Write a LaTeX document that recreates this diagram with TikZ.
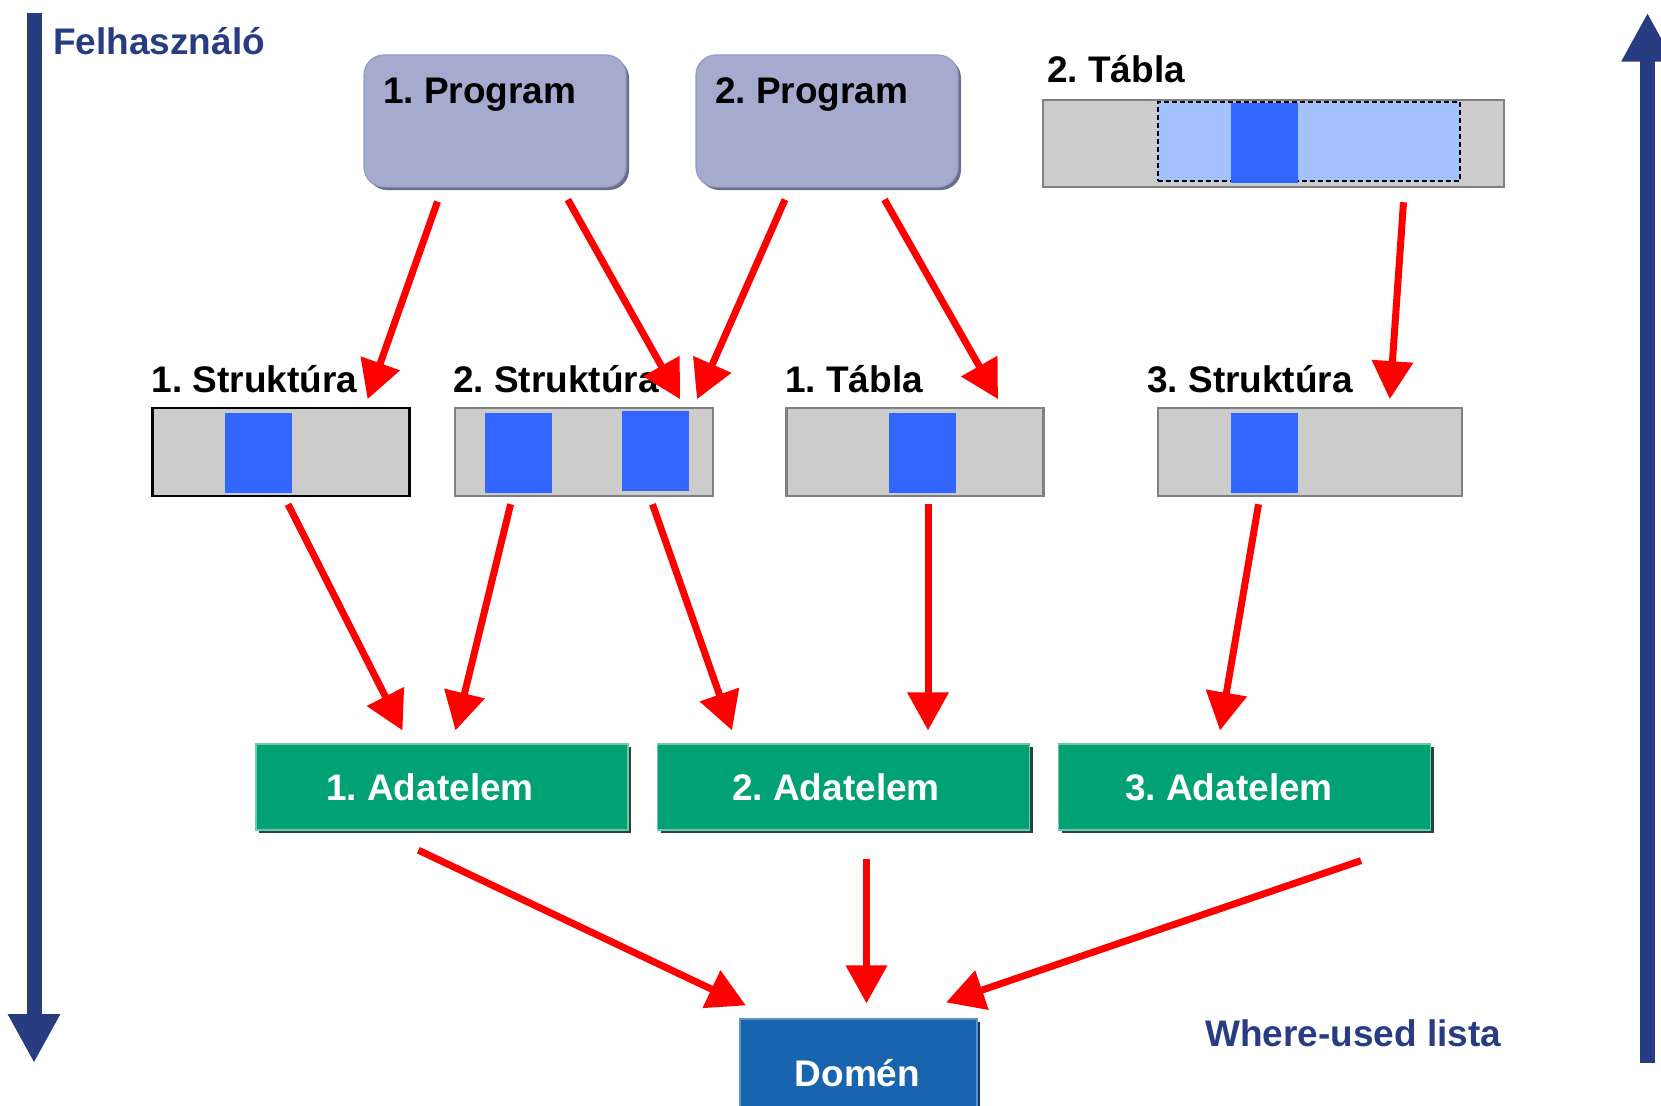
\documentclass[tikz,border=0pt]{standalone}
\usepackage{fontspec}
\setmainfont{Liberation Sans}
\usetikzlibrary{arrows.meta,shadows}
\definecolor{navy}{RGB}{40,60,130}
\definecolor{progfill}{RGB}{165,170,207}
\definecolor{progline}{RGB}{150,155,195}
\definecolor{progshade}{RGB}{105,110,140}
\definecolor{boxgray}{RGB}{204,204,204}
\definecolor{boxline}{RGB}{128,128,128}
\definecolor{fieldblue}{RGB}{51,102,255}
\definecolor{lightblue}{RGB}{164,194,255}
\definecolor{adgreen}{RGB}{0,161,115}
\definecolor{adlight}{RGB}{110,200,170}
\definecolor{adshade}{RGB}{40,70,60}
\definecolor{domblue}{RGB}{24,100,174}
\definecolor{domshade}{RGB}{20,50,90}
\definecolor{arrred}{RGB}{255,0,0}
\frenchspacing
\tikzset{
  txt/.style={inner sep=0pt, anchor=base west, font=\fontsize{37pt}{44pt}\selectfont\bfseries},
  progbox/.style={draw=progline, line width=1.2pt, fill=progfill, rounded corners=20pt,
    minimum width=262pt, minimum height=132pt, inner sep=0pt,
    drop shadow={shadow xshift=3pt, shadow yshift=-3pt, fill=progshade, opacity=1}},
  recbox/.style={draw=boxline, line width=2.5pt, fill=boxgray, minimum height=88pt, inner sep=0pt},
  field/.style={fill=fieldblue, minimum width=67pt, minimum height=80pt, inner sep=0pt},
  adbox/.style={draw=adlight, line width=1.2pt, fill=adgreen, minimum width=372pt, minimum height=86pt,
    inner sep=0pt, text=white, font=\fontsize{37pt}{44pt}\selectfont\bfseries,
    drop shadow={shadow xshift=3pt, shadow yshift=-3pt, fill=adshade, opacity=1}},
  dombox/.style={draw=domblue!70!white, line width=1.2pt, fill=domblue, minimum width=237pt, minimum height=110pt,
    inner sep=0pt, drop shadow={shadow xshift=3pt, shadow yshift=-3pt, fill=domshade, opacity=1}},
  redarrow/.style={draw=arrred, line width=7pt, -{Triangle[length=38pt,width=40pt]}},
  navyarrow/.style={draw=navy, line width=15pt, -{Triangle[length=49pt,width=49pt]}}
}
\begin{document}
\begin{tikzpicture}[x=1pt,y=-1pt]
\useasboundingbox (0,0) rectangle (1661,1105);
% side arrows
\coordinate (ltop) at (34,12.7);
\coordinate (lbot) at (34,1063);
\coordinate (rbot) at (1647.5,1063);
\coordinate (rtop) at (1647.5,12.7);
\draw[navyarrow] (ltop) -- (lbot);
\draw[navyarrow] (rbot) -- (rtop);
\node[txt, text=navy] (user) at (53,55) {Felhasználó};
\node[txt, text=navy] (wul) at (1205,1046) {Where-used lista};

% programs
\node[progbox] (p1) at (495,121) {};
\node[progbox] (p2) at (827,121) {};
\node[txt] (p1t) at (383,104) {1. Program};
\node[txt] (p2t) at (715,104) {2. Program};

% 2. Tabla
\node[recbox, minimum width=461pt, minimum height=87pt] (t2) at (1273.5,143.5) {};
\node[draw=black, dashed, dash pattern=on 5pt off 3pt, line width=1.5pt, fill=lightblue,
  minimum width=302pt, minimum height=79pt, inner sep=0pt] (t2d) at (1309,141.5) {};
\node[field] (t2b) at (1264,143) {};
\node[txt] (t2t) at (1047,83) {2. Tábla};

% level 2
\node[recbox, draw=black, minimum width=257pt] (s1) at (281,452) {};
\node[field] (s1b) at (258,453) {};
\node[recbox, minimum width=258pt] (s2) at (584,452) {};
\node[field] (s2a) at (518.5,453) {};
\node[field] (s2b) at (655,451) {};
\node[recbox, minimum width=257pt] (t1) at (915,452) {};
\node[field] (t1b) at (922,453) {};
\node[recbox, minimum width=304pt] (s3) at (1310,452) {};
\node[field] (s3b) at (1264,453) {};
\node[txt] (s1t) at (151.5,392) {1. Struktúra};
\node[txt] (s2t) at (453,392) {2. Struktúra};
\node[txt] (t1t) at (785,392) {1. Tábla};
\node[txt] (s3t) at (1147,392) {3. Struktúra};

% adatelem
\node[adbox] (a1) at (442,787) {\hspace*{-24pt}1. Adatelem};
\node[adbox] (a2) at (843.5,787) {\hspace*{-15pt}2. Adatelem};
\node[adbox] (a3) at (1244.5,787) {\hspace*{-31pt}3. Adatelem};

% domen
\node[dombox] (d) at (858.5,1074) {};
\node[txt, text=white] (dt) at (794.5,1086) {Domén};

% red arrows
\draw[redarrow] ([shift={(-57.5,14)}]p1.south) -- ([shift={(86.6,-7.6)}]s1.north);
\draw[redarrow] ([shift={(72.8,12)}]p1.south) -- ([shift={(96,-7.6)}]s2.north);
\draw[redarrow] ([shift={(-42,12)}]p2.south) -- ([shift={(113,-7.6)}]s2.north);
\draw[redarrow] ([shift={(57.5,12)}]p2.south) -- ([shift={(83,-7.6)}]t1.north);
\draw[redarrow] ([shift={(130,14)}]t2.south) -- ([shift={(79.8,-7.6)}]s3.north);
\draw[redarrow] ([shift={(7,7)}]s1.south) -- ([shift={(-39.5,-13)}]a1.north);
\draw[redarrow] ([shift={(-73.4,7)}]s2.south) -- ([shift={(13.5,-13)}]a1.north);
\draw[redarrow] ([shift={(68.5,7)}]s2.south) -- ([shift={(-111.5,-13)}]a2.north);
\draw[redarrow] ([shift={(13,7)}]t1.south) -- ([shift={(84.5,-13)}]a2.north);
\draw[redarrow] ([shift={(-51.5,7)}]s3.south) -- ([shift={(-24.5,-13)}]a3.north);
\draw[redarrow] ([shift={(-23.6,19.6)}]a1.south) -- ([shift={(-112.7,-13)}]d.north);
\draw[redarrow] ([shift={(23,28)}]a2.south) -- ([shift={(8,-15)}]d.north);
\draw[redarrow] ([shift={(116.5,30)}]a3.south) -- ([shift={(87.5,-16)}]d.north);
\end{tikzpicture}
\end{document}
